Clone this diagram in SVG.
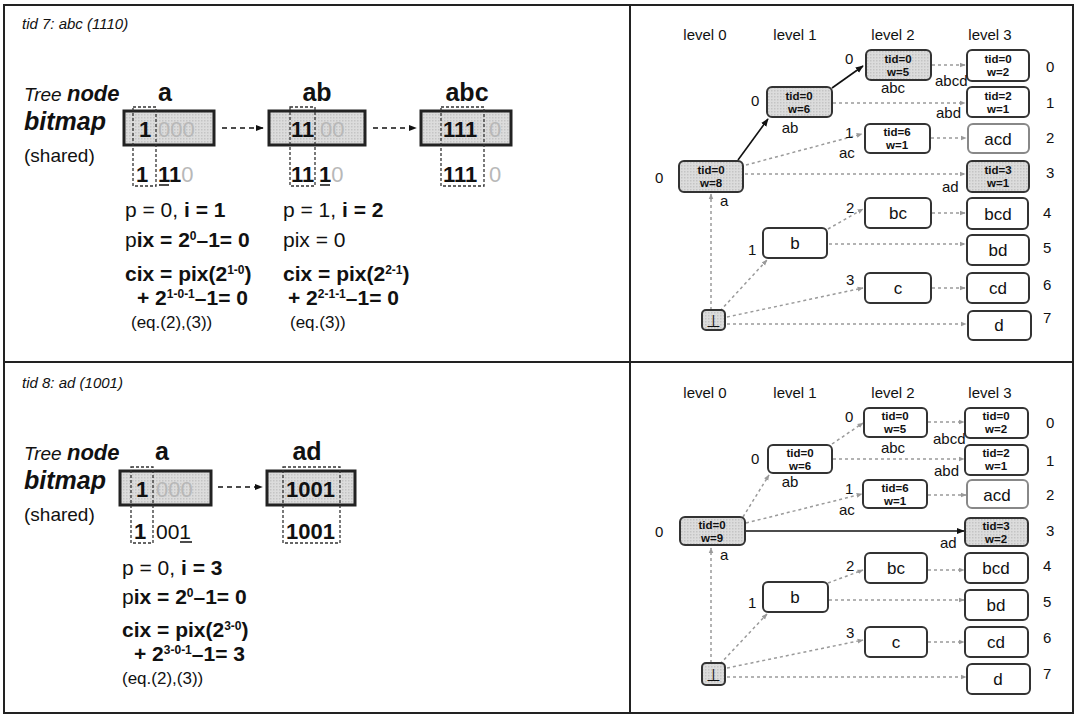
<svg xmlns="http://www.w3.org/2000/svg" width="1075" height="716" viewBox="0 0 1075 716">
<defs>
<style>
text{font-family:"Liberation Sans",Arial,sans-serif;fill:#111}
.frame{stroke:#222;stroke-width:2;fill:none}
.ttl{font-size:15px;font-style:italic}
.tree{font-size:19px;font-style:italic}
.node{font-size:22px;font-style:italic;font-weight:bold}
.bmp{font-size:25px;font-style:italic;font-weight:bold}
.shr{font-size:19px}
.lab{font-size:25px;font-weight:bold;text-anchor:middle}
.box{fill:url(#dots);stroke:#222;stroke-width:3}
.bd{font-size:22px;font-weight:bold}
.gy{fill:#b8b8b8;font-weight:normal}
.gd{stroke:#333;stroke-width:1.3;stroke-dasharray:3,2;fill:none}
.f{font-size:21px}
.fb{font-size:21px;font-weight:bold}
.sp{font-size:12px}
.eq{font-size:17px}
.lv{font-size:15px;text-anchor:middle}
.nw{fill:#fff;stroke:#333;stroke-width:2}
.ng{fill:url(#dots);stroke:#333;stroke-width:2}
.nlt{fill:#fff;stroke:#888;stroke-width:2}
.nt{font-size:11.5px;font-weight:bold;text-anchor:middle}
.ns{font-size:17px;text-anchor:middle}
.lb{font-size:15px}
.eg{stroke:#9a9a9a;stroke-width:1.5;stroke-dasharray:3,3;fill:none}
.es{stroke:#111;stroke-width:1.6;fill:none}
.ea{stroke:#111;stroke-width:1.4;stroke-dasharray:5,4;fill:none}
</style>
<pattern id="dots" width="3" height="3" patternUnits="userSpaceOnUse">
<rect width="3" height="3" fill="#dcdcdc"/>
<rect width="1.5" height="1.5" fill="#c4c4c4"/>
</pattern>
<marker id="ag" viewBox="0 0 10 10" refX="9" refY="5" markerWidth="6" markerHeight="6" orient="auto" markerUnits="userSpaceOnUse">
<path d="M0,1 L10,5 L0,9 z" fill="#9a9a9a"/>
</marker>
<marker id="ab" viewBox="0 0 10 10" refX="9" refY="5" markerWidth="8" markerHeight="8" orient="auto" markerUnits="userSpaceOnUse">
<path d="M0,1 L10,5 L0,9 z" fill="#111"/>
</marker>
</defs>

<rect width="1075" height="716" fill="#fff"/>
<g id="frame">
<rect class="frame" x="4" y="5" width="1069" height="708"/>
<line class="frame" x1="630" y1="5" x2="630" y2="713"/>
<line class="frame" x1="4" y1="362" x2="1073" y2="362"/>
</g>

<!-- ===== Top-left panel ===== -->
<g id="tl-head">
<text class="ttl" x="22" y="29">tid 7: abc (1110)</text>
<text x="24" y="101"><tspan class="tree">Tree </tspan><tspan class="node">node</tspan></text>
<text class="bmp" x="24" y="130">bitmap</text>
<text class="shr" x="24" y="162">(shared)</text>
</g>

<g id="tl-bm-a">
<text class="lab" x="165" y="101">a</text>
<rect class="box" x="124" y="111" width="90" height="34"/>
<rect class="gd" x="133" y="107" width="23" height="79"/>
<text class="bd" x="139" y="137">1<tspan class="gy" x="158">000</tspan></text>
<text class="bd" x="136" y="182">1</text>
<text class="bd" x="158" y="182">11<tspan class="gy">0</tspan></text>
<line x1="159" y1="185" x2="169" y2="185" stroke="#111" stroke-width="1.5"/>
</g>

<g id="tl-bm-ab">
<text class="lab" x="317" y="101">ab</text>
<rect class="box" x="269" y="111" width="96" height="34"/>
<rect class="gd" x="290" y="107" width="25" height="79"/>
<text class="bd" x="291" y="137">11<tspan class="gy" x="320">00</tspan></text>
<text class="bd" x="291" y="182">11</text>
<text class="bd" x="319" y="182">1<tspan class="gy">0</tspan></text>
<line x1="320" y1="185" x2="330" y2="185" stroke="#111" stroke-width="1.5"/>
</g>

<g id="tl-bm-abc">
<text class="lab" x="467" y="101">abc</text>
<rect class="box" x="421" y="111" width="90" height="34"/>
<rect class="gd" x="441" y="107" width="43" height="79"/>
<text class="bd" x="443" y="137">111<tspan class="gy" x="489">0</tspan></text>
<text class="bd" x="443" y="182">111<tspan class="gy" x="489">0</tspan></text>
</g>

<g id="tl-arrows">
<line class="ea" x1="222" y1="128" x2="263" y2="128" marker-end="url(#ab)"/>
<line class="ea" x1="373" y1="128" x2="416" y2="128" marker-end="url(#ab)"/>
</g>

<g id="tl-formulas">
<text class="f" x="125" y="217">p = 0, <tspan class="fb">i = 1</tspan></text>
<text class="fb" x="125" y="247"><tspan font-weight="normal">p</tspan>ix = 2<tspan class="sp" dy="-7">0</tspan><tspan dy="7">–1= 0</tspan></text>
<text class="fb" x="125" y="281">cix = pix(2<tspan class="sp" dy="-7">1-0</tspan><tspan dy="7">)</tspan></text>
<text class="fb" x="137" y="305">+ 2<tspan class="sp" dy="-7">1-0-1</tspan><tspan dy="7">–1= 0</tspan></text>
<text class="eq" x="131" y="328">(eq.(2),(3))</text>

<text class="f" x="283" y="217">p = 1, <tspan class="fb">i = 2</tspan></text>
<text class="f" x="283" y="247">pix = 0</text>
<text class="fb" x="283" y="281">cix = pix(2<tspan class="sp" dy="-7">2-1</tspan><tspan dy="7">)</tspan></text>
<text class="fb" x="288" y="305">+ 2<tspan class="sp" dy="-7">2-1-1</tspan><tspan dy="7">–1= 0</tspan></text>
<text class="eq" x="290" y="328">(eq.(3))</text>
</g>

<!-- ===== Bottom-left panel ===== -->
<g id="bl-head">
<text class="ttl" x="22" y="388">tid 8: ad (1001)</text>
<text x="24" y="460"><tspan class="tree">Tree </tspan><tspan class="node">node</tspan></text>
<text class="bmp" x="24" y="489">bitmap</text>
<text class="shr" x="24" y="521">(shared)</text>
</g>

<g id="bl-bm-a">
<text class="lab" x="162" y="460">a</text>
<rect class="box" x="120" y="471" width="91" height="34"/>
<rect class="gd" x="131" y="467" width="22" height="76"/>
<text class="bd" x="136" y="497">1<tspan class="gy" x="156">000</tspan></text>
<text class="bd" x="134" y="539">1</text>
<text class="f" x="156" y="539">001</text>
<line x1="180" y1="542" x2="192" y2="542" stroke="#111" stroke-width="1.5"/>
</g>

<g id="bl-bm-ad">
<text class="lab" x="307" y="460">ad</text>
<rect class="box" x="267" y="471" width="88" height="34"/>
<rect class="gd" x="283" y="467" width="57" height="76"/>
<text class="bd" x="286" y="497" font-weight="normal">1001</text>
<text class="bd" x="286" y="539" font-weight="normal">1001</text>
</g>

<g id="bl-arrows">
<line class="ea" x1="218" y1="487" x2="262" y2="487" marker-end="url(#ab)"/>
</g>

<g id="bl-formulas">
<text class="f" x="122" y="575">p = 0, <tspan class="fb">i = 3</tspan></text>
<text class="fb" x="122" y="604"><tspan font-weight="normal">p</tspan>ix = 2<tspan class="sp" dy="-7">0</tspan><tspan dy="7">–1= 0</tspan></text>
<text class="fb" x="122" y="637">cix = pix(2<tspan class="sp" dy="-7">3-0</tspan><tspan dy="7">)</tspan></text>
<text class="fb" x="134" y="661">+ 2<tspan class="sp" dy="-7">3-0-1</tspan><tspan dy="7">–1= 3</tspan></text>
<text class="eq" x="122" y="684">(eq.(2),(3))</text>
</g>

<!-- ===== Top-right panel ===== -->
<g id="tr-levels">
<text class="lv" x="705" y="40">level 0</text>
<text class="lv" x="795" y="40">level 1</text>
<text class="lv" x="893" y="40">level 2</text>
<text class="lv" x="990" y="40">level 3</text>
</g>

<g id="tr-connectors">
<line class="es" x1="738" y1="160" x2="768" y2="119" marker-end="url(#ab)"/>
<line class="es" x1="832" y1="88" x2="863" y2="66" marker-end="url(#ab)"/>
<line class="eg" x1="932" y1="65" x2="965" y2="65" marker-end="url(#ag)"/>
<line class="eg" x1="833" y1="103" x2="965" y2="103" marker-end="url(#ag)"/>
<line class="eg" x1="746" y1="165" x2="862" y2="134" marker-end="url(#ag)"/>
<line class="eg" x1="931" y1="138" x2="966" y2="138" marker-end="url(#ag)"/>
<line class="eg" x1="745" y1="174" x2="965" y2="174" marker-end="url(#ag)"/>
<line class="eg" x1="711" y1="310" x2="711" y2="194" marker-end="url(#ag)"/>
<line class="eg" x1="720" y1="311" x2="767" y2="260" marker-end="url(#ag)"/>
<line class="eg" x1="828" y1="229" x2="863" y2="209" marker-end="url(#ag)"/>
<line class="eg" x1="829" y1="244" x2="965" y2="244" marker-end="url(#ag)"/>
<line class="eg" x1="932" y1="213" x2="965" y2="213" marker-end="url(#ag)"/>
<line class="eg" x1="727" y1="317" x2="863" y2="288" marker-end="url(#ag)"/>
<line class="eg" x1="932" y1="288" x2="965" y2="288" marker-end="url(#ag)"/>
<line class="eg" x1="727" y1="324" x2="966" y2="324" marker-end="url(#ag)"/>
</g>

<g id="tr-n-abc"><rect class="ng" x="866" y="50" width="65" height="30" rx="5"/><text class="nt" x="898" y="63">tid=0</text><text class="nt" x="898" y="76">w=5</text><text class="lb" x="845" y="64">0</text><text class="lb" x="893" y="93" text-anchor="middle">abc</text></g>
<g id="tr-n-abcd"><rect class="nw" x="967" y="50" width="62" height="31" rx="5"/><text class="nt" x="998" y="63">tid=0</text><text class="nt" x="998" y="76">w=2</text><text class="lb" x="1046" y="72">0</text><text class="lb" x="935" y="86">abcd</text></g>
<g id="tr-n-ab"><rect class="ng" x="767" y="87" width="65" height="30" rx="5"/><text class="nt" x="799" y="100">tid=0</text><text class="nt" x="799" y="113">w=6</text><text class="lb" x="751" y="106">0</text><text class="lb" x="790" y="133" text-anchor="middle">ab</text></g>
<g id="tr-n-abd"><rect class="nw" x="967" y="87" width="62" height="30" rx="5"/><text class="nt" x="998" y="100">tid=2</text><text class="nt" x="998" y="113">w=1</text><text class="lb" x="1046" y="108">1</text><text class="lb" x="936" y="118">abd</text></g>
<g id="tr-n-ac"><rect class="nw" x="865" y="124" width="65" height="29" rx="5"/><text class="nt" x="897" y="136">tid=6</text><text class="nt" x="897" y="149">w=1</text><text class="lb" x="845" y="138">1</text><text class="lb" x="839" y="158">ac</text></g>
<g id="tr-n-acd"><rect class="nlt" x="968" y="124" width="61" height="29" rx="5"/><text class="ns" x="998" y="145">acd</text><text class="lb" x="1046" y="143">2</text></g>
<g id="tr-n-a"><rect class="ng" x="679" y="161" width="64" height="31" rx="5"/><text class="nt" x="711" y="174">tid=0</text><text class="nt" x="711" y="187">w=8</text><text class="lb" x="655" y="183">0</text><text class="lb" x="720" y="206">a</text></g>
<g id="tr-n-ad"><rect class="ng" x="967" y="161" width="62" height="31" rx="5"/><text class="nt" x="998" y="174">tid=3</text><text class="nt" x="998" y="187">w=1</text><text class="lb" x="1046" y="178">3</text><text class="lb" x="942" y="192">ad</text></g>
<g id="tr-n-bc"><rect class="nw" x="865" y="198" width="66" height="30" rx="5"/><text class="ns" x="898" y="219">bc</text><text class="lb" x="846" y="213">2</text></g>
<g id="tr-n-bcd"><rect class="nw" x="967" y="198" width="61" height="31" rx="5"/><text class="ns" x="998" y="220">bcd</text><text class="lb" x="1043" y="218">4</text></g>
<g id="tr-n-b"><rect class="nw" x="763" y="228" width="64" height="30" rx="5"/><text class="ns" x="795" y="249">b</text><text class="lb" x="748" y="255">1</text></g>
<g id="tr-n-bd"><rect class="nw" x="967" y="235" width="62" height="30" rx="5"/><text class="ns" x="998" y="256">bd</text><text class="lb" x="1043" y="253">5</text></g>
<g id="tr-n-c"><rect class="nw" x="865" y="273" width="66" height="30" rx="5"/><text class="ns" x="898" y="294">c</text><text class="lb" x="846" y="285">3</text></g>
<g id="tr-n-cd"><rect class="nw" x="967" y="273" width="62" height="30" rx="5"/><text class="ns" x="998" y="294">cd</text><text class="lb" x="1043" y="290">6</text></g>
<g id="tr-n-bot"><rect class="ng" x="702" y="310" width="23" height="20" rx="4"/><text class="ns" x="713" y="327">⊥</text></g>
<g id="tr-n-d"><rect class="nw" x="968" y="311" width="63" height="29" rx="5"/><text class="ns" x="999" y="331">d</text><text class="lb" x="1043" y="323">7</text></g>

<!-- ===== Bottom-right panel ===== -->
<g id="br-levels">
<text class="lv" x="705" y="398">level 0</text>
<text class="lv" x="795" y="398">level 1</text>
<text class="lv" x="893" y="398">level 2</text>
<text class="lv" x="990" y="398">level 3</text>
</g>

<g id="br-connectors">
<line class="eg" x1="743" y1="517" x2="769" y2="475" marker-end="url(#ag)"/>
<line class="eg" x1="832" y1="444" x2="863" y2="423" marker-end="url(#ag)"/>
<line class="eg" x1="928" y1="422" x2="964" y2="422" marker-end="url(#ag)"/>
<line class="eg" x1="833" y1="459" x2="964" y2="459" marker-end="url(#ag)"/>
<line class="eg" x1="746" y1="523" x2="862" y2="494" marker-end="url(#ag)"/>
<line class="eg" x1="928" y1="495" x2="966" y2="495" marker-end="url(#ag)"/>
<line class="es" x1="746" y1="531" x2="964" y2="531" marker-end="url(#ab)"/>
<line class="eg" x1="711" y1="663" x2="711" y2="548" marker-end="url(#ag)"/>
<line class="eg" x1="720" y1="664" x2="767" y2="614" marker-end="url(#ag)"/>
<line class="eg" x1="828" y1="583" x2="863" y2="570" marker-end="url(#ag)"/>
<line class="eg" x1="829" y1="600" x2="964" y2="600" marker-end="url(#ag)"/>
<line class="eg" x1="928" y1="570" x2="964" y2="570" marker-end="url(#ag)"/>
<line class="eg" x1="727" y1="668" x2="863" y2="640" marker-end="url(#ag)"/>
<line class="eg" x1="928" y1="642" x2="964" y2="642" marker-end="url(#ag)"/>
<line class="eg" x1="727" y1="677" x2="966" y2="677" marker-end="url(#ag)"/>
</g>

<g id="br-n-abc"><rect class="nw" x="864" y="408" width="63" height="29" rx="5"/><text class="nt" x="895" y="420">tid=0</text><text class="nt" x="895" y="433">w=5</text><text class="lb" x="845" y="422">0</text><text class="lb" x="893" y="453" text-anchor="middle">abc</text></g>
<g id="br-n-abcd"><rect class="nw" x="965" y="408" width="63" height="30" rx="5"/><text class="nt" x="996" y="420">tid=0</text><text class="nt" x="996" y="433">w=2</text><text class="lb" x="1046" y="428">0</text><text class="lb" x="933" y="444">abcd</text></g>
<g id="br-n-ab"><rect class="nw" x="768" y="445" width="64" height="28" rx="5"/><text class="nt" x="800" y="457">tid=0</text><text class="nt" x="800" y="470">w=6</text><text class="lb" x="751" y="464">0</text><text class="lb" x="790" y="487" text-anchor="middle">ab</text></g>
<g id="br-n-abd"><rect class="nw" x="965" y="445" width="63" height="30" rx="5"/><text class="nt" x="996" y="457">tid=2</text><text class="nt" x="996" y="470">w=1</text><text class="lb" x="1046" y="466">1</text><text class="lb" x="934" y="476">abd</text></g>
<g id="br-n-ac"><rect class="nw" x="863" y="480" width="64" height="28" rx="5"/><text class="nt" x="895" y="492">tid=6</text><text class="nt" x="895" y="505">w=1</text><text class="lb" x="845" y="494">1</text><text class="lb" x="839" y="515">ac</text></g>
<g id="br-n-acd"><rect class="nlt" x="967" y="480" width="61" height="28" rx="5"/><text class="ns" x="997" y="501">acd</text><text class="lb" x="1046" y="500">2</text></g>
<g id="br-n-a"><rect class="ng" x="680" y="517" width="65" height="28" rx="5"/><text class="nt" x="712" y="529">tid=0</text><text class="nt" x="712" y="542">w=9</text><text class="lb" x="655" y="537">0</text><text class="lb" x="720" y="560">a</text></g>
<g id="br-n-ad"><rect class="ng" x="965" y="518" width="63" height="28" rx="5"/><text class="nt" x="996" y="530">tid=3</text><text class="nt" x="996" y="543">w=2</text><text class="lb" x="1046" y="536">3</text><text class="lb" x="940" y="548">ad</text></g>
<g id="br-n-bc"><rect class="nw" x="865" y="553" width="62" height="30" rx="5"/><text class="ns" x="896" y="574">bc</text><text class="lb" x="846" y="571">2</text></g>
<g id="br-n-bcd"><rect class="nw" x="965" y="553" width="63" height="30" rx="5"/><text class="ns" x="996" y="574">bcd</text><text class="lb" x="1043" y="571">4</text></g>
<g id="br-n-b"><rect class="nw" x="763" y="582" width="65" height="30" rx="5"/><text class="ns" x="795" y="603">b</text><text class="lb" x="748" y="608">1</text></g>
<g id="br-n-bd"><rect class="nw" x="965" y="590" width="63" height="30" rx="5"/><text class="ns" x="996" y="611">bd</text><text class="lb" x="1043" y="607">5</text></g>
<g id="br-n-c"><rect class="nw" x="865" y="627" width="62" height="30" rx="5"/><text class="ns" x="896" y="648">c</text><text class="lb" x="846" y="638">3</text></g>
<g id="br-n-cd"><rect class="nw" x="965" y="627" width="63" height="30" rx="5"/><text class="ns" x="996" y="648">cd</text><text class="lb" x="1043" y="643">6</text></g>
<g id="br-n-bot"><rect class="ng" x="702" y="663" width="23" height="22" rx="4"/><text class="ns" x="713" y="681">⊥</text></g>
<g id="br-n-d"><rect class="nw" x="967" y="664" width="63" height="30" rx="5"/><text class="ns" x="998" y="685">d</text><text class="lb" x="1043" y="679">7</text></g>
</svg>
